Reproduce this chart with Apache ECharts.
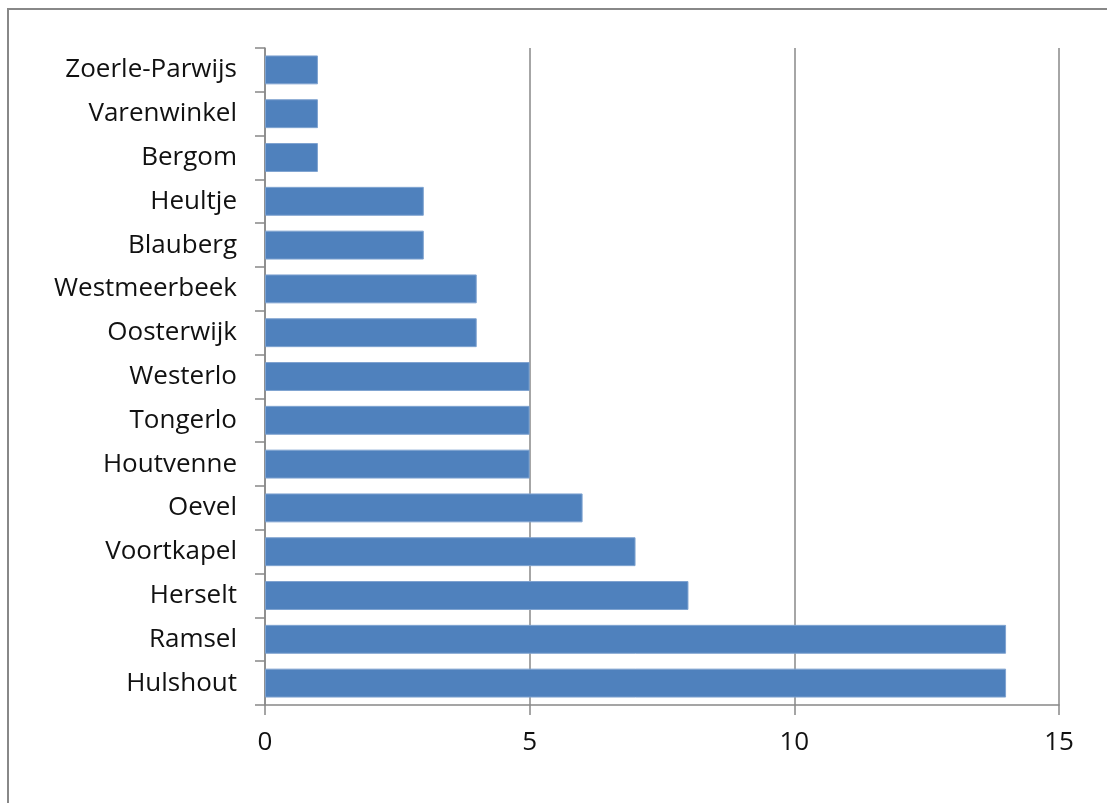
<!DOCTYPE html>
<html>
<head>
<meta charset="utf-8">
<script src="https://cdn.jsdelivr.net/npm/echarts@6/dist/echarts.min.js"></script>
<style>
html,body{margin:0;padding:0;background:#fff;}
#chart{width:1107px;height:803px;}
</style>
</head>
<body>
<div id="chart"></div>
<script>
const categories = ["Hulshout","Ramsel","Herselt","Voortkapel","Oevel","Houtvenne","Tongerlo","Westerlo","Oosterwijk","Westmeerbeek","Blauberg","Heultje","Bergom","Varenwinkel","Zoerle-Parwijs"];
const values = [14,14,8,7,6,5,5,5,4,4,3,3,1,1,1];
const xTicks = [0,5,10,15];

const chart = echarts.init(document.getElementById('chart'));
const font = '"Open Sans", sans-serif';
chart.setOption({
  animation:false,
  backgroundColor:'#fff',
  graphic:[{type:'rect',shape:{x:8,y:9,width:1300,height:1000},style:{fill:'none',stroke:'#888',lineWidth:2},silent:true}],
  grid:{left:265,right:48,top:48,bottom:98,containLabel:false},
  xAxis:{type:'value',min:xTicks[0],max:xTicks[xTicks.length-1],interval:5,
    axisLine:{show:true,lineStyle:{color:'#888',width:1.5}},
    axisTick:{show:true,length:10,lineStyle:{color:'#888',width:1.5}},
    splitLine:{show:true,lineStyle:{color:'#888',width:1.5}},
    axisLabel:{color:'#111',fontSize:26,fontFamily:font,margin:25}},
  yAxis:{type:'category',data:categories,
    axisLine:{show:true,lineStyle:{color:'#888',width:1.5}},
    axisTick:{show:true,length:10,lineStyle:{color:'#888',width:1.5}},
    axisLabel:{color:'#111',fontSize:26,fontFamily:font,margin:28}},
  series:[{type:'bar',data:values,barCategoryGap:'34%',
    itemStyle:{color:'#4F81BD',borderColor:'#7FA3D0',borderWidth:1}}]
});
</script>
</body>
</html>
